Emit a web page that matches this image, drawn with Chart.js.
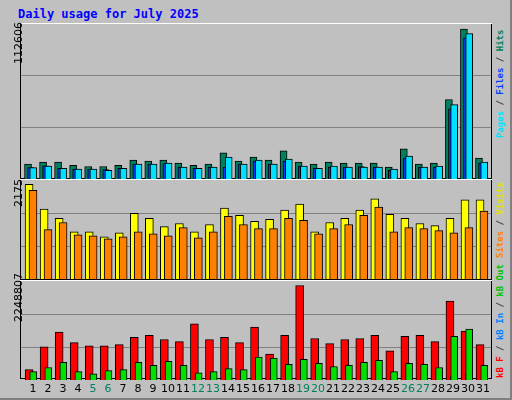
<!DOCTYPE html>
<html><head><meta charset="utf-8">
<script src="https://cdn.jsdelivr.net/npm/chart.js@4/dist/chart.umd.min.js"></script>
<style>
body{margin:0;background:#fff}
#wrap{position:absolute;left:0;top:0;width:510px;height:398px;background:#c0c0c0;border-right:2px solid #808080;border-bottom:2px solid #808080;overflow:hidden}
#frame{position:absolute;left:20px;top:23px;width:470px;height:354px;border:1px solid #000;background:#c0c0c0}
.sep{position:absolute;left:20px;width:472px;height:1px;background:#fff}
canvas{position:absolute}
.t{position:absolute;white-space:nowrap;transform-origin:0 0;transform:rotate(-90deg)}
.lab{font:11px "DejaVu Sans";color:#000}
.rl{font:bold 9px "DejaVu Sans Mono"}
#title{position:absolute;left:18px;top:7px;font:bold 12px "DejaVu Sans Mono";color:#0000ff}
.xl{position:absolute;top:382px;font:11px "DejaVu Sans";width:20px;text-align:center}
</style></head><body>
<div id="wrap">
<div id="title">Daily usage for July 2025</div>
<div id="frame"></div>
<div class="sep" style="top:23px"></div>
<div class="sep" style="top:178px;background:#000"></div><div class="sep" style="top:179px"></div>
<div class="sep" style="top:279px;background:#000"></div><div class="sep" style="top:280px"></div>
<canvas id="c1" width="470" height="155" style="left:21px;top:24px;width:470px;height:155px"></canvas>
<canvas id="c2" width="470" height="99" style="left:21px;top:180px;width:470px;height:99px"></canvas>
<canvas id="c3" width="470" height="99" style="left:21px;top:281px;width:470px;height:99px"></canvas>
<div class="t lab" style="left:12px;top:64px">112606</div>
<div class="t lab" style="left:12px;top:207px">2175</div>
<div class="t lab" style="left:12px;top:322px">2248807</div>
<div class="t rl" style="left:495px;top:138px"><span style="color:#00e0ff">Pages</span><span style="color:#404040"> / </span><span style="color:#0040ff">Files</span><span style="color:#404040"> / </span><span style="color:#008060">Hits</span></div>
<div class="t rl" style="left:495px;top:258px"><span style="color:#ff8000">Sites</span><span style="color:#404040"> / </span><span style="color:#e0e000">Visits</span></div>
<div class="t rl" style="left:495px;top:378px"><span style="color:#ff0000">kB F</span><span style="color:#404040"> / </span><span style="color:#0080ff">kB In</span><span style="color:#404040"> / </span><span style="color:#00c000">kB Out</span></div>
<div id="xlabels"></div>
</div>
<script>
const days=[1,2,3,4,5,6,7,8,9,10,11,12,13,14,15,16,17,18,19,20,21,22,23,24,25,26,27,28,29,30,31];
const weekend=[5,6,12,13,19,20,26,27];
const hits=[11200,12700,12700,10200,9400,9400,10200,14200,13500,14200,11900,10200,11200,19600,13500,16500,14200,21100,12700,11200,12700,11900,11900,11900,8900,22600,11200,11900,59700,112606,15700];
const files=[8600,9900,8100,7400,7400,7000,8100,11200,11200,11500,8900,8100,8900,8900,11200,13500,11200,13500,9700,8100,8900,8900,9300,8900,6600,15700,8900,8900,52700,106000,11900];
const pages=[8600,9700,8100,7400,7400,6600,8100,11200,11200,11900,8900,8100,8900,16500,11200,14200,11200,15000,9700,8100,9700,8900,8900,8900,7400,17300,8900,9700,55900,109200,12700];
const visits=[2175,1608,1395,1087,1087,969,1064,1513,1395,1206,1277,1087,1253,1631,1466,1324,1371,1584,1726,1087,1300,1395,1584,1844,1490,1395,1277,1229,1395,1820,1820];
const sites=[2041,1135,1300,1017,993,922,969,1087,1040,993,1182,946,1087,1442,1253,1158,1158,1395,1348,1040,1158,1253,1466,1655,1087,1182,1158,1111,1064,1182,1560];
const kbF=[247000,791000,1137000,890000,815000,815000,840000,1013000,1063000,964000,914000,1334000,964000,1013000,890000,1260000,618000,1063000,2248807,988000,865000,964000,988000,1063000,692000,1038000,1063000,914000,1878000,1161000,840000];
const kbIn=[8000,8000,8000,8000,8000,8000,8000,8000,8000,8000,8000,8000,8000,8000,8000,8000,8000,8000,8000,8000,8000,8000,8000,8000,8000,8000,8000,8000,74000,148000,8000];
const kbOut=[198000,297000,420000,198000,148000,222000,247000,420000,346000,445000,346000,173000,198000,272000,247000,544000,519000,371000,494000,395000,321000,346000,420000,470000,198000,395000,371000,297000,1038000,1211000,346000];

const xl=document.getElementById('xlabels');
days.forEach(d=>{const e=document.createElement('div');e.className='xl';e.textContent=d;e.style.left=(21+(d-0.333)*15.0-8)+'px';e.style.color=weekend.includes(d)?'#008060':'#000';xl.appendChild(e);});

function ds(vals,off,color,w,order){
  return {data:vals.map((v,i)=>({x:days[i]+off,y:v})),backgroundColor:color,borderColor:'#000',borderWidth:1,barThickness:w,order:order,grouped:false};
}
function mk(id,sets,max){
  new Chart(document.getElementById(id),{type:'bar',data:{datasets:sets},
   options:{responsive:false,animation:false,events:[],layout:{padding:0},
    plugins:{legend:{display:false},tooltip:{enabled:false}},
    scales:{x:{type:'linear',offset:false,min:0.333,max:31.6,display:false},
      y:{min:0,max:max,border:{display:false},ticks:{display:false},grid:{color:'#808080',drawTicks:false,lineWidth:1},
         afterBuildTicks:a=>{a.ticks=[{value:max/3},{value:2*max/3}];}}}}});
}
mk('c1',[ds(pages,0.15,'#00e0ff',7,1),ds(files,-0.03,'#0040ff',6,2),ds(hits,-0.2,'#008060',7,3)],116400);
mk('c2',[ds(sites,0.13,'#ff8000',8,1),ds(visits,-0.13,'#ffff00',8,2)],2277);
mk('c3',[ds(kbOut,0.15,'#00e000',7,1),ds(kbIn,0.0,'#0080ff',3,2),ds(kbF,-0.13,'#ff0000',8,3)],2355000);
</script></body></html>
